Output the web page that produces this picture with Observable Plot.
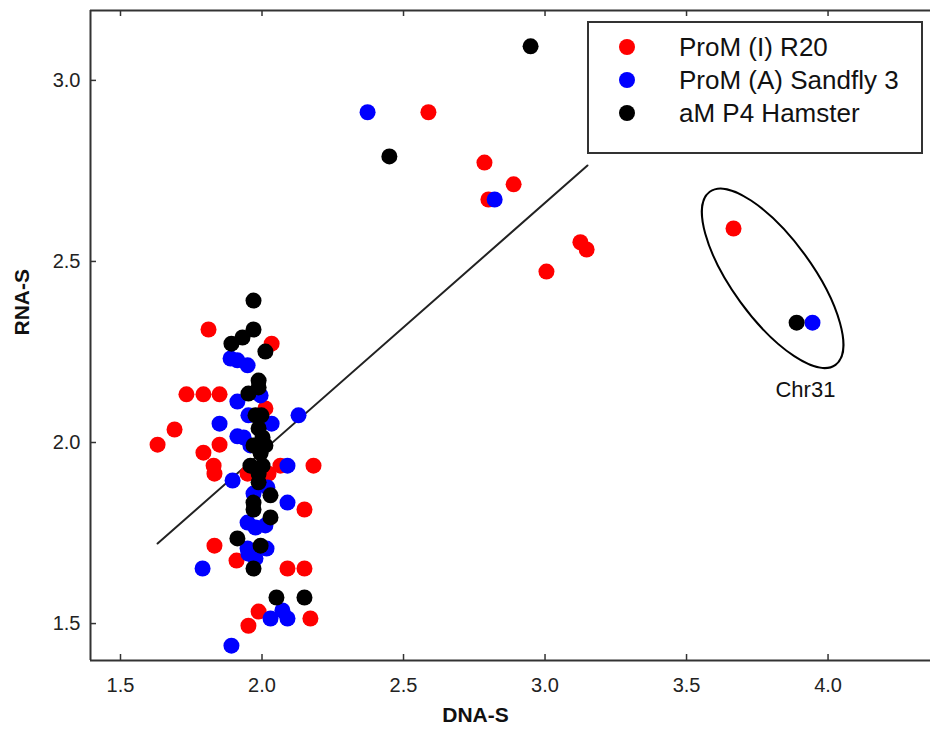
<!DOCTYPE html>
<html>
<head>
<meta charset="utf-8">
<script src="https://cdn.jsdelivr.net/npm/d3@7"></script>
<script src="https://cdn.jsdelivr.net/npm/@observablehq/plot@0.6"></script>
<style>
  body { margin: 0; background: #fff; }
  #chart { position: relative; width: 930px; height: 732px; }
</style>
</head>
<body>
<div id="chart"></div>
<script>
// Series names and colours
const seriesNames = ["ProM (I) R20", "ProM (A) Sandfly 3", "aM P4 Hamster"];
const seriesColors = ["#ff0000", "#0000ff", "#000000"];

// ProM (I) R20 (red)
const redX = [1.631, 1.691, 1.733, 1.793, 1.850, 1.811, 1.793, 1.850, 1.829, 1.832, 1.832, 1.910, 1.952, 1.988, 2.090, 2.150, 2.171, 2.150, 2.182, 2.065, 2.034, 2.012, 1.949, 2.023,
              2.588, 2.786, 2.889, 2.800, 3.125, 3.147, 3.005, 3.666];
const redY = [1.994, 2.036, 2.133, 2.133, 2.133, 2.312, 1.972, 1.994, 1.936, 1.914, 1.715, 1.674, 1.494, 1.533, 1.652, 1.652, 1.514, 1.815, 1.936, 1.936, 2.273, 2.094, 1.914, 1.914,
              2.912, 2.773, 2.713, 2.671, 2.553, 2.533, 2.472, 2.591];

// ProM (A) Sandfly 3 (blue)
const blueX = [1.889, 1.913, 1.949, 1.913, 1.995, 1.952, 2.129, 1.850, 2.034, 1.913, 1.935, 1.959, 2.090, 1.896, 2.019, 1.970, 2.090, 1.949, 1.977, 2.012, 1.949, 1.952, 2.016, 1.977, 1.790, 2.072, 2.030, 2.090, 1.892,
               2.373, 2.822, 3.945];
const blueY = [2.232, 2.227, 2.213, 2.113, 2.130, 2.075, 2.075, 2.052, 2.052, 2.017, 2.014, 1.992, 1.936, 1.895, 1.876, 1.859, 1.834, 1.779, 1.765, 1.771, 1.707, 1.693, 1.707, 1.680, 1.652, 1.536, 1.514, 1.514, 1.439,
               2.912, 2.671, 2.331];

// aM P4 Hamster (black)
const blackX = [1.970, 1.970, 1.931, 1.892, 2.012, 1.988, 1.988, 1.952, 1.977, 1.998, 1.988, 2.002, 1.970, 2.012, 1.995, 1.959, 2.002, 1.988, 1.988, 2.030, 1.970, 1.970, 2.030, 1.913, 1.995, 1.970, 2.051, 2.150,
                2.949, 2.450, 3.889];
const blackY = [2.392, 2.312, 2.290, 2.273, 2.251, 2.171, 2.152, 2.135, 2.075, 2.075, 2.039, 2.014, 1.992, 1.992, 1.970, 1.936, 1.936, 1.914, 1.890, 1.854, 1.834, 1.815, 1.793, 1.735, 1.715, 1.652, 1.572, 1.572,
                3.094, 2.790, 2.331];

// Fitted line endpoints
const fitX = [1.631, 3.150];
const fitY = [1.721, 2.765];

// Axis ticks
const xTicks = [1.5, 2.0, 2.5, 3.0, 3.5, 4.0];
const yTicks = [1.5, 2.0, 2.5, 3.0];

// Annotation
const annLabel = "Chr31";
const annX = 3.920, annY = 2.146;
const ellCenter = [3.806, 2.452];

const xDomain = [1.394, 4.362];
const yDomain = [1.398, 3.193];

const points = [
  ...redX.map((x, i) => ({x, y: redY[i], s: 0})),
  ...blueX.map((x, i) => ({x, y: blueY[i], s: 1})),
  ...blackX.map((x, i) => ({x, y: blackY[i], s: 2}))
];
const fit = fitX.map((x, i) => ({x, y: fitY[i]}));

const frameColor = "#333";
const font = "Liberation Sans, Arial, sans-serif";

const ellipseMark = (index, scales) => {
  const g = d3.create("svg:g");
  const cx = scales.x(ellCenter[0]), cy = scales.y(ellCenter[1]);
  g.append("ellipse")
    .attr("cx", cx).attr("cy", cy)
    .attr("rx", 107).attr("ry", 40)
    .attr("transform", `rotate(54 ${cx} ${cy})`)
    .attr("fill", "none").attr("stroke", "#000").attr("stroke-width", 2);
  return g.node();
};

const legendMark = () => {
  const g = d3.create("svg:g");
  g.append("rect").attr("x", 588).attr("y", 22).attr("width", 334).attr("height", 131)
    .attr("fill", "#fff").attr("stroke", frameColor).attr("stroke-width", 2);
  seriesNames.forEach((name, i) => {
    const yy = 47 + i * 33;
    g.append("circle").attr("cx", 627).attr("cy", yy).attr("r", 8).attr("fill", seriesColors[i]);
    g.append("text").attr("x", 679).attr("y", yy).attr("dy", "0.35em")
      .attr("text-anchor", "start")
      .attr("font-size", 26).attr("font-family", font).attr("fill", "#111").text(name);
  });
  return g.node();
};

const chart = Plot.plot({
  width: 930,
  height: 732,
  marginLeft: 90,
  marginRight: 0,
  marginTop: 10,
  marginBottom: 72,
  style: {fontFamily: font, background: "#fff", overflow: "visible"},
  x: {domain: xDomain, ticks: xTicks},
  y: {domain: yDomain, ticks: yTicks},
  marks: [
    Plot.axisX(xTicks, {tickSize: 0, tickPadding: 17, fontSize: 20, fill: "#222", tickFormat: d3.format(".1f"), label: null}),
    Plot.axisY(yTicks, {tickSize: 0, tickPadding: 10, fontSize: 20, fill: "#222", tickFormat: d3.format(".1f"), label: null}),
    Plot.tickX(xTicks, {x: d => d, insetTop: 644, stroke: frameColor, strokeWidth: 1.5}),
    Plot.tickX(xTicks, {x: d => d, insetBottom: 644, stroke: frameColor, strokeWidth: 1.5}),
    Plot.tickY(yTicks, {y: d => d, insetRight: 834, stroke: frameColor, strokeWidth: 1.5}),
    Plot.ruleX([xDomain[0]], {stroke: frameColor, strokeWidth: 2}),
    Plot.ruleY([yDomain[0], yDomain[1]], {stroke: frameColor, strokeWidth: 2}),
    Plot.line(fit, {x: "x", y: "y", stroke: "#222", strokeWidth: 2}),
    Plot.dot(points, {x: "x", y: "y", r: 8, fill: d => seriesColors[d.s], stroke: null}),
    ellipseMark,
    Plot.text([annLabel], {x: () => annX, y: () => annY, text: d => d, fontSize: 22, fill: "#111"}),
    Plot.text(["RNA-S"], {frameAnchor: "left", dx: -68, rotate: -90, text: d => d, fontSize: 21, fontWeight: "bold", fill: "#111"}),
    Plot.text(["DNA-S"], {frameAnchor: "bottom", dx: -35, dy: 61, text: d => d, fontSize: 21, fontWeight: "bold", fill: "#111"}),
    legendMark
  ]
});
document.getElementById("chart").appendChild(chart);
</script>
</body>
</html>
